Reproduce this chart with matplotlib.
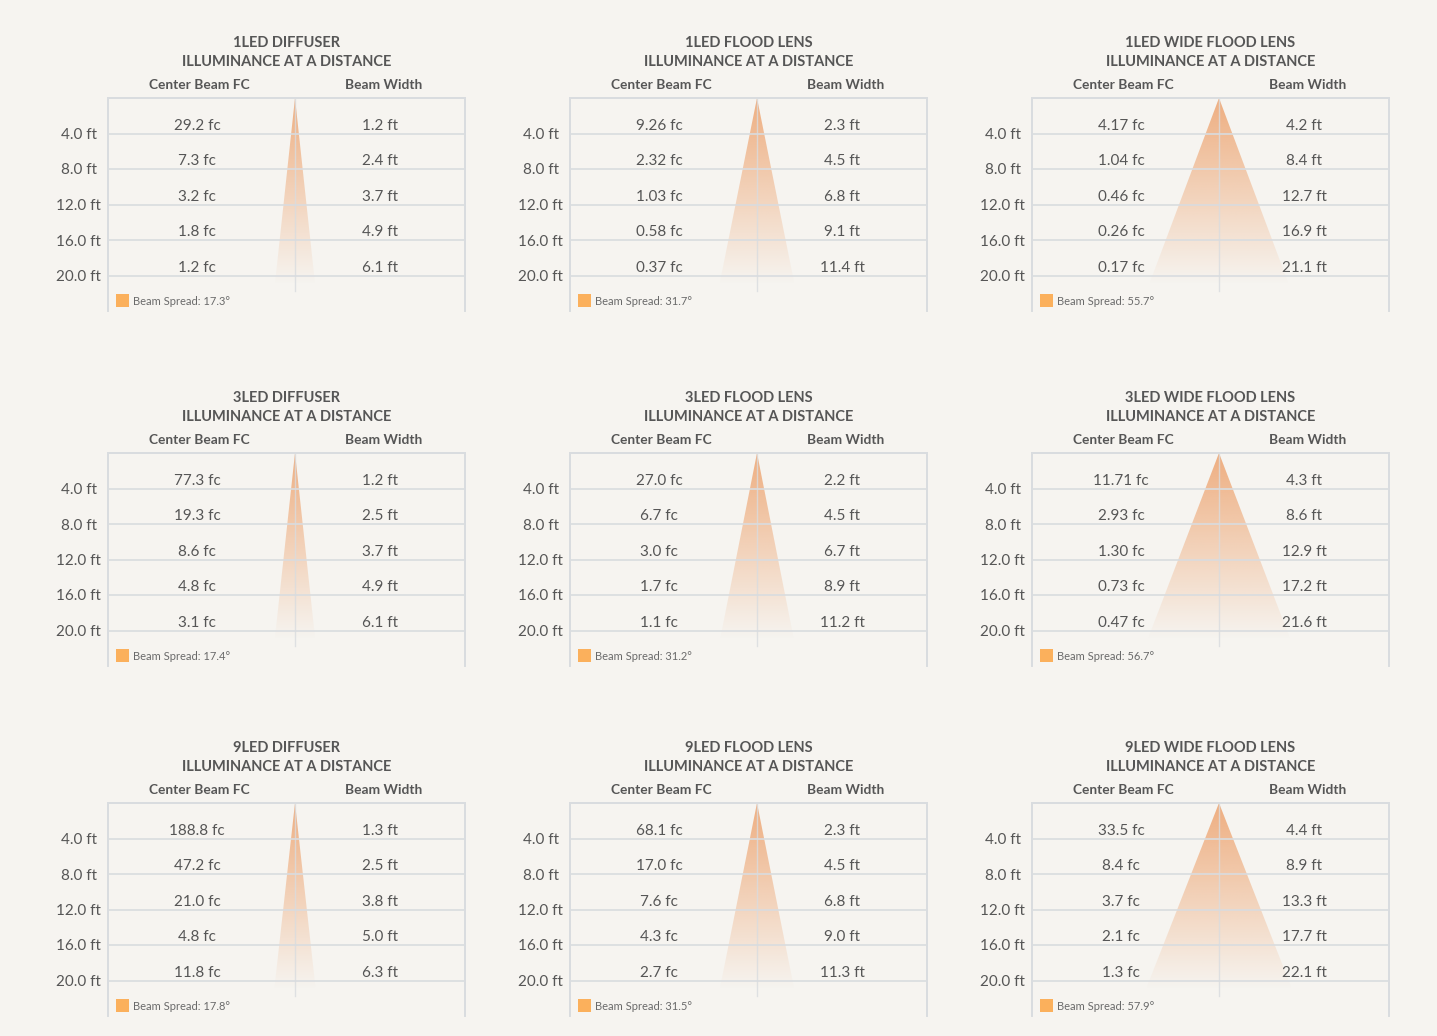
import numpy as np
import matplotlib
matplotlib.use("Agg")
import matplotlib.pyplot as plt
from matplotlib.patches import Polygon, Rectangle
import matplotlib.transforms as mtransforms

plt.rcParams['font.family'] = ['Lato', 'DejaVu Sans']

# ── data ─────────────────────────────────────────
distances = [4.0, 8.0, 12.0, 16.0, 20.0]

titles = ["1LED DIFFUSER", "1LED FLOOD LENS", "1LED WIDE FLOOD LENS",
          "3LED DIFFUSER", "3LED FLOOD LENS", "3LED WIDE FLOOD LENS",
          "9LED DIFFUSER", "9LED FLOOD LENS", "9LED WIDE FLOOD LENS"]

center_fc = [
    ["29.2", "7.3", "3.2", "1.8", "1.2"],
    ["9.26", "2.32", "1.03", "0.58", "0.37"],
    ["4.17", "1.04", "0.46", "0.26", "0.17"],
    ["77.3", "19.3", "8.6", "4.8", "3.1"],
    ["27.0", "6.7", "3.0", "1.7", "1.1"],
    ["11.71", "2.93", "1.30", "0.73", "0.47"],
    ["188.8", "47.2", "21.0", "4.8", "11.8"],
    ["68.1", "17.0", "7.6", "4.3", "2.7"],
    ["33.5", "8.4", "3.7", "2.1", "1.3"],
]

beam_width = [
    ["1.2", "2.4", "3.7", "4.9", "6.1"],
    ["2.3", "4.5", "6.8", "9.1", "11.4"],
    ["4.2", "8.4", "12.7", "16.9", "21.1"],
    ["1.2", "2.5", "3.7", "4.9", "6.1"],
    ["2.2", "4.5", "6.7", "8.9", "11.2"],
    ["4.3", "8.6", "12.9", "17.2", "21.6"],
    ["1.3", "2.5", "3.8", "5.0", "6.3"],
    ["2.3", "4.5", "6.8", "9.0", "11.3"],
    ["4.4", "8.9", "13.3", "17.7", "22.1"],
]

beam_spread = [17.3, 31.7, 55.7, 17.4, 31.2, 56.7, 17.8, 31.5, 57.9]

# ── style ────────────────────────────────────────
BG = '#f6f4f0'
GRID = '#d9dcdf'
TXT = '#565656'
ORANGE = np.array([236, 150, 90]) / 255.0
SWATCH = '#fbb05c'

W, H = 1437, 1036
fig = plt.figure(figsize=(W / 100, H / 100), dpi=100, facecolor=BG)

col_left = [108, 570, 1032]
row_top = [98, 453, 803]
ax_w, ax_h = 357, 213

XMIN, XMAX = -29.7, 27.0
YMAX = 24.0
D_TRI = 21.0     # where the beam fades out
D_LINE = 21.7    # end of centre line

for i in range(9):
    r, c = divmod(i, 3)
    ax = fig.add_axes([col_left[c] / W, 1 - (row_top[r] + ax_h) / H,
                       ax_w / W, ax_h / H])
    ax.set_facecolor(BG)

    for side in ['left', 'right', 'top']:
        ax.spines[side].set_color(GRID)
        ax.spines[side].set_linewidth(1.4)
    ax.spines['bottom'].set_visible(False)

    for d in distances:
        ax.axhline(d, color=GRID, lw=1.2, zorder=3)

    # beam triangle with fading gradient
    half = D_TRI * np.tan(np.radians(beam_spread[i] / 2))
    tri = Polygon([[0, 0], [-half, D_TRI], [half, D_TRI]], closed=True,
                  facecolor='none', edgecolor='none')
    ax.add_patch(tri)
    n = 256
    grad = np.zeros((n, 1, 4))
    grad[:, 0, :3] = ORANGE
    grad[:, 0, 3] = np.linspace(0.75, 0.0, n)
    im = ax.imshow(grad, extent=(-half, half, D_TRI, 0), aspect='auto',
                   origin='upper', zorder=2, interpolation='bilinear')
    im.set_clip_path(tri)
    ax.set_xlim(XMIN, XMAX)
    ax.set_ylim(YMAX, 0)

    ax.plot([0, 0], [0, D_LINE], color=GRID, lw=1.0, alpha=0.8, zorder=3)

    # y tick labels
    ax.set_yticks(distances)
    ax.set_yticklabels([f"{d:.1f} ft" for d in distances], fontsize=11,
                       color=TXT, ha='center')
    ax.tick_params(axis='y', length=0, pad=21)
    ax.set_xticks([])

    tr = mtransforms.blended_transform_factory(ax.transAxes, ax.transData)
    for d, fc, bw in zip(distances, center_fc[i], beam_width[i]):
        ax.text(0.249, d - 0.4, f"{fc} fc", transform=tr, ha='center',
                va='baseline', fontsize=11, color=TXT, zorder=4)
        ax.text(0.762, d - 0.4, f"{bw} ft", transform=tr, ha='center',
                va='baseline', fontsize=11, color=TXT, zorder=4)

    # titles and headers
    ax.text(0.5, 1.241, titles[i], transform=ax.transAxes, ha='center',
            va='baseline', fontsize=10.5, fontweight='bold', color=TXT)
    ax.text(0.5, 1.152, "ILLUMINANCE AT A DISTANCE", transform=ax.transAxes,
            ha='center', va='baseline', fontsize=10.5, fontweight='bold',
            color=TXT)
    ax.text(0.255, 1.042, "Center Beam FC", transform=ax.transAxes,
            ha='center', va='baseline', fontsize=9.9, fontweight='bold',
            color=TXT)
    ax.text(0.773, 1.042, "Beam Width", transform=ax.transAxes,
            ha='center', va='baseline', fontsize=9.9, fontweight='bold',
            color=TXT)

    # legend
    ax.add_patch(Rectangle((0.0224, 0.0188), 0.0364, 0.061,
                           transform=ax.transAxes, facecolor=SWATCH,
                           edgecolor='none', zorder=4))
    ax.text(0.069, 0.044, f"Beam Spread: {beam_spread[i]}°",
            transform=ax.transAxes, ha='left', va='center', fontsize=8,
            color='#6a6a6a', zorder=4)

fig.savefig("out.png", dpi=100, facecolor=BG)
